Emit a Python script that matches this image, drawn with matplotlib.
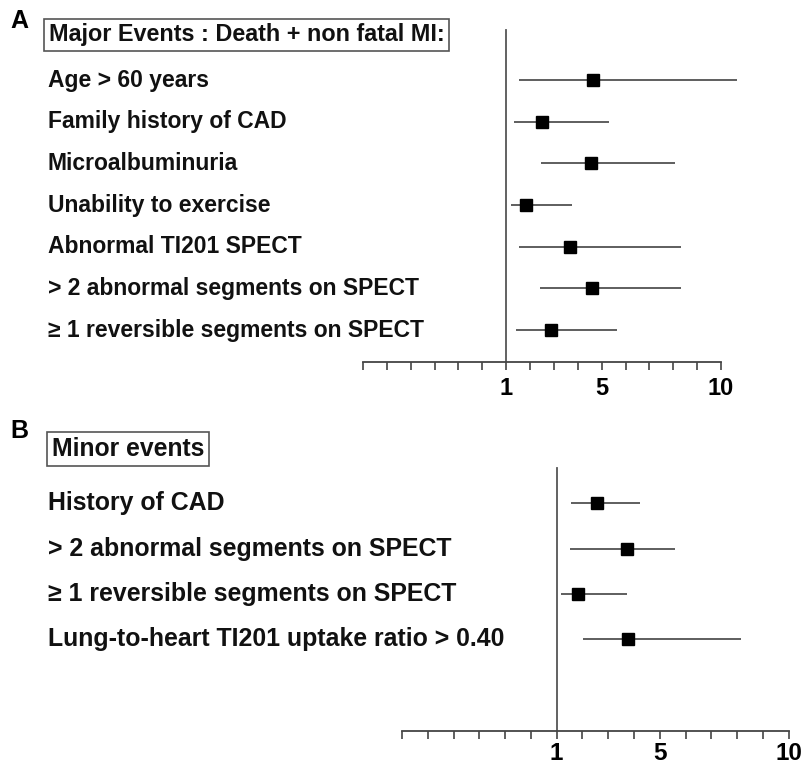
import matplotlib
matplotlib.use("Agg")
import matplotlib.pyplot as plt
from matplotlib.transforms import blended_transform_factory

plt.rcParams['font.family'] = ['Liberation Sans', 'DejaVu Sans']
plt.rcParams['font.weight'] = 'bold'

# Panel A: major events (odds ratio, lower CI, upper CI)
labels_a = ["Age > 60 years", "Family history of CAD", "Microalbuminuria",
            "Unability to exercise", "Abnormal TI201 SPECT",
            "> 2 abnormal segments on SPECT", "\u2265 1 reversible segments on SPECT"]
est_a = [4.64, 2.48, 4.57, 1.85, 3.69, 4.60, 2.89]
lo_a = [1.53, 1.32, 2.44, 1.22, 1.53, 2.40, 1.43]
hi_a = [10.65, 5.30, 8.07, 3.74, 8.33, 8.33, 5.65]

# Panel B: minor events
labels_b = ["History of CAD", "> 2 abnormal segments on SPECT",
            "\u2265 1 reversible segments on SPECT",
            "Lung-to-heart TI201 uptake ratio > 0.40"]
est_b = [2.56, 3.74, 1.81, 3.76]
lo_b = [1.57, 1.53, 1.18, 2.04]
hi_b = [4.23, 5.58, 3.72, 8.15]

tick_vals = list(range(-5, 11))
tick_text = {1: "1", 5: "5", 10: "10"}

W, H = 804, 768
fig = plt.figure(figsize=(W / 100, H / 100), dpi=100)


def px_axes(left, right, top, bottom):
    return fig.add_axes([left / W, 1 - bottom / H, (right - left) / W, (bottom - top) / H])


def forest(ax, labels, est, lo, hi, row0, step, top, bottom, line_top,
           xmin_px, x10_px, right_px, fs, tick_fs, pad):
    unit = (x10_px - xmin_px) / 15.0
    ax.set_xlim(-5, 10 + (right_px - x10_px) / unit)
    ax.set_ylim((bottom - row0) / step, (top - row0) / step)
    for sp in ["top", "right", "left"]:
        ax.spines[sp].set_visible(False)
    ax.spines["bottom"].set_bounds(-5, 10)
    ax.spines["bottom"].set_color("#444444")
    ax.spines["bottom"].set_linewidth(1.3)
    ax.set_yticks([])
    ax.set_xticks(tick_vals)
    ax.set_xticklabels([tick_text.get(v, "") for v in tick_vals], fontsize=tick_fs, fontweight="bold")
    ax.tick_params(axis="x", direction="out", length=6, width=1.2, color="#444444", pad=pad)
    ax.axvline(1, ymin=0, ymax=(bottom - line_top) / (bottom - top), color="#555555", lw=1.3)
    ys = list(range(len(labels)))
    ax.hlines(ys, lo, hi, color="#333333", lw=1.1)
    ax.plot(est, ys, "s", color="black", markersize=8)
    tr = blended_transform_factory(fig.transFigure, ax.transData)
    for y, lab in zip(ys, labels):
        ax.text(48 / W, y, lab, transform=tr, ha="left", va="center",
                fontsize=fs, fontweight="bold", color="#111111")


axA = px_axes(363, 745, 20, 362)
forest(axA, labels_a, est_a, lo_a, hi_a, 80, 41.67, 20, 362, 30, 363, 721, 745, 16.5, 17, 5)

axB = px_axes(402, 800, 460, 731)
forest(axB, labels_b, est_b, lo_b, hi_b, 503.3, 45.3, 460, 731, 468, 402, 788.7, 800, 17.9, 17.5, 2)

box = dict(boxstyle="square,pad=0.2", facecolor="white", edgecolor="#555555", linewidth=1.2)
fig.text(49 / W, 1 - 35 / H, "Major Events : Death + non fatal MI:", ha="left", va="center",
         fontsize=16.8, fontweight="bold", color="#111111", bbox=box)
fig.text(52 / W, 1 - 449 / H, "Minor events", ha="left", va="center",
         fontsize=17.8, fontweight="bold", color="#111111", bbox=box)
fig.text(10 / W, 1 - 21 / H, "A", ha="left", va="center", fontsize=18, fontweight="bold")
fig.text(10 / W, 1 - 431 / H, "B", ha="left", va="center", fontsize=18, fontweight="bold")

fig.savefig("out.png", dpi=100)
